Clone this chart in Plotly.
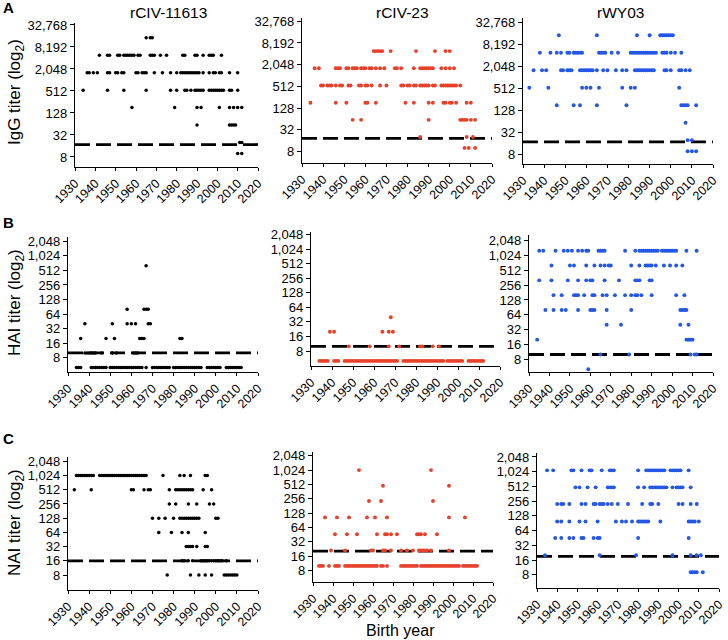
import math
import plotly.graph_objects as go

# ---------------- data ----------------
year_ticks = [1930, 1940, 1950, 1960, 1970, 1980, 1990, 2000, 2010, 2020]
igg_ticks = [8, 32, 128, 512, 2048, 8192, 32768]
hai_ticks = [8, 16, 32, 64, 128, 256, 512, 1024, 2048]
nai_ticks = [8, 16, 32, 64, 128, 256, 512, 1024, 2048]

strains = ["rCIV-11613", "rCIV-23", "rWY03"]

# (titer, [birth years])
igg_11613 = [
    (14580, [1965, 1967, 1968]),
    (4860, [1942, 1946, 1947, 1951, 1952, 1954, 1955, 1956, 1957, 1958, 1959, 1961, 1962, 1967, 1968, 1969, 1972,
            1975, 1983, 1984, 1989, 1990, 1993, 1996, 1997, 1998, 2002]),
    (1620, [1936, 1937, 1939, 1941, 1946, 1947, 1950, 1951, 1953, 1954, 1960, 1961, 1963, 1964, 1965, 1969, 1973,
            1977, 1980, 1982, 1983, 1984, 1985, 1986, 1987, 1988, 1989, 1990, 1991, 1993, 1996, 1998, 1999, 2001,
            2002, 2006, 2010]),
    (540, [1934, 1946, 1954, 1965, 1977, 1980, 1984, 1985, 1987, 1989, 1990, 1991, 1992, 1993, 1996, 1997, 1998,
           1999, 2000, 2001, 2002, 2003, 2006, 2007, 2010]),
    (180, [1958, 1979, 1990, 1992, 2001, 2006, 2008, 2010, 2012]),
    (60, [1990, 2006, 2007, 2008, 2009]),
    (20, [2011, 2012]),
    (10, [2010, 2012]),
]
igg_23 = [
    (4860, [1964, 1965, 1966, 1967, 1968, 1972, 1984, 1993, 1998, 2000]),
    (1620, [1936, 1938, 1946, 1947, 1948, 1951, 1952, 1954, 1955, 1956, 1958, 1959, 1960, 1962, 1963, 1965, 1967,
            1969, 1974, 1975, 1977, 1983, 1986, 1987, 1988, 1989, 1990, 1991, 1992, 1996, 1998, 2000, 2002]),
    (540, [1939, 1940, 1942, 1943, 1944, 1946, 1948, 1949, 1952, 1953, 1957, 1958, 1960, 1961, 1963, 1967, 1970,
           1977, 1978, 1980, 1981, 1983, 1984, 1986, 1987, 1988, 1989, 1990, 1992, 1993, 1996, 1997, 1998, 1999,
           2000, 2001, 2002, 2003, 2005]),
    (180, [1934, 1946, 1951, 1960, 1961, 1965, 1979, 1983, 1990, 1992, 1997, 1998, 2000, 2001, 2003, 2008, 2010]),
    (60, [1954, 1958, 1990, 2005, 2006, 2007, 2008, 2010, 2012]),
    (20, [1986, 2008, 2011]),
    (10, [2007, 2009, 2012]),
]
igg_wy03 = [
    (14580, [1947, 1965, 1984, 1990, 1995, 1996, 1997, 1998, 1999, 2000, 2001]),
    (4860, [1938, 1943, 1946, 1948, 1951, 1952, 1954, 1955, 1956, 1957, 1958, 1966, 1967, 1968, 1969, 1972, 1975,
            1981, 1982, 1983, 1984, 1985, 1986, 1987, 1988, 1989, 1990, 1991, 1992, 1993, 1996, 1997, 1998, 2000,
            2002, 2005]),
    (1620, [1935, 1939, 1941, 1948, 1949, 1951, 1952, 1953, 1957, 1958, 1959, 1960, 1961, 1962, 1963, 1965, 1968,
            1970, 1974, 1977, 1979, 1983, 1984, 1985, 1986, 1987, 1988, 1989, 1990, 1991, 1992, 1997, 1998, 2000,
            2004, 2005, 2007, 2009]),
    (540, [1933, 1942, 1958, 1960, 1962, 1966, 1977, 1981, 1983, 2004]),
    (180, [1946, 1954, 1957, 1965, 1979, 2005, 2006, 2007, 2008, 2012]),
    (60, [2007]),
    (20, [2008, 2010]),
    (10, [2008, 2010, 2012]),
]

hai_11613 = [
    (640, [1967]),
    (80, [1958, 1966, 1967, 1968]),
    (40, [1938, 1951, 1958, 1960, 1962, 1968, 1969]),
    (20, [1936, 1948, 1952, 1964, 1965, 1966, 1983, 1984]),
    (10, [1938, 1939, 1940, 1941, 1942, 1943, 1946, 1951, 1953, 1961, 1962, 1963]),
    (5, [1934, 1935, 1936, 1941, 1942, 1943, 1944, 1945, 1946, 1947, 1948, 1950, 1951, 1952, 1953, 1954, 1955,
         1956, 1957, 1958, 1959, 1960, 1961, 1962, 1963, 1964, 1965, 1967, 1970, 1971, 1972, 1973, 1974, 1975,
         1976, 1977, 1978, 1980, 1981, 1982, 1983, 1984, 1985, 1986, 1987, 1988, 1989, 1990, 1991, 1992, 1993,
         1996, 1997, 1998, 1999, 2000, 2001, 2002, 2005, 2006, 2007, 2008, 2009, 2010, 2011, 2012]),
]
hai_23 = [
    (40, [1968]),
    (20, [1939, 1941, 1964, 1967, 1969]),
    (10, [1948, 1958, 1967, 1972, 1982, 1983, 1988, 1991]),
    (5, [1934, 1935, 1936, 1937, 1938, 1941, 1942, 1943, 1946, 1947, 1948, 1949, 1950, 1951, 1952, 1953, 1954,
         1955, 1956, 1957, 1958, 1959, 1960, 1961, 1962, 1963, 1964, 1965, 1966, 1967, 1968, 1969, 1970, 1971,
         1974, 1975, 1976, 1977, 1978, 1979, 1980, 1981, 1982, 1983, 1984, 1985, 1986, 1987, 1988, 1989, 1990,
         1991, 1992, 1993, 1995, 1996, 1997, 1998, 1999, 2000, 2001, 2002, 2005, 2006, 2007, 2008, 2009, 2010,
         2011, 2012]),
]
hai_wy03 = [
    (1280, [1935, 1937, 1943, 1947, 1949, 1951, 1954, 1956, 1958, 1959, 1964, 1965, 1966, 1967, 1977, 1982, 1984,
            1985, 1986, 1987, 1988, 1989, 1990, 1991, 1992, 1993, 1995, 1996, 1997, 1998, 1999, 2000, 2001, 2002,
            2007, 2012]),
    (640, [1941, 1950, 1952, 1958, 1962, 1965, 1967, 1969, 1970, 1980, 1984, 1987, 1988, 1989, 1990, 1992, 1996,
           1999, 2002, 2005]),
    (320, [1935, 1941, 1949, 1954, 1958, 1960, 1961, 1967, 1974, 1982, 1983, 1984, 1989, 1990]),
    (160, [1942, 1946, 1952, 1953, 1954, 1957, 1961, 1962, 1966, 1968, 1972, 1977, 1980, 1982, 1983, 1985, 1990,
           2002, 2006]),
    (80, [1938, 1942, 1946, 1948, 1954, 1960, 1961, 1962, 1968, 1980, 2004, 2005, 2006, 2007]),
    (40, [1968, 1975, 2004, 2008]),
    (20, [1934, 2007, 2008, 2009, 2010]),
    (10, [1965, 1979, 2009, 2011, 2012]),
    (5, [1959]),
]

nai_11613 = [
    (1024, [1934, 1935, 1936, 1937, 1938, 1939, 1940, 1941, 1942, 1945, 1946, 1947, 1948, 1949, 1950, 1951, 1952,
            1953, 1954, 1955, 1956, 1957, 1958, 1959, 1960, 1961, 1962, 1963, 1964, 1965, 1966, 1967, 1975, 1983,
            1985, 1988, 1995, 1996]),
    (512, [1933, 1941, 1960, 1961, 1966, 1968, 1969, 1978, 1981, 1982, 1983, 1984, 1985, 1986, 1987, 1988, 1989,
           1994, 1998]),
    (256, [1978, 1981, 1987, 1991, 1997, 1999]),
    (128, [1970, 1973, 1976, 1980, 1983, 1984, 1985, 1986, 1987, 1988, 1989, 1990, 1991, 1992, 2000, 2001]),
    (64, [1973, 1979, 1984, 1987, 1995]),
    (32, [1986, 1987, 1988, 1989, 1991, 1995, 1996]),
    (16, [1984, 1985, 1987, 1989, 1993, 1994, 1995, 1996, 1997, 1998, 1999, 2000, 2001, 2002, 2003, 2005]),
    (8, [1977, 1988, 1992, 1995, 1998, 2004, 2005, 2006, 2007, 2008, 2009, 2010]),
]
nai_23 = [
    (1024, [1953, 1989]),
    (480, [1965, 1998]),
    (230, [1958, 1964, 1990]),
    (104, [1936, 1942, 1948, 1957, 1961, 1967, 1998, 2006]),
    (46, [1941, 1947, 1952, 1962, 1966, 1967, 1969, 1972, 1982, 1983, 1984, 1986, 1992]),
    (21, [1939, 1946, 1959, 1960, 1965, 1966, 1969, 1974, 1977, 1980, 1983, 1984, 1985, 1986, 1987, 1989, 1998]),
    (10, [1933, 1934, 1935, 1938, 1941, 1942, 1943, 1946, 1947, 1948, 1949, 1950, 1951, 1952, 1953, 1954, 1955,
          1956, 1957, 1958, 1959, 1960, 1961, 1962, 1964, 1965, 1967, 1974, 1975, 1976, 1977, 1978, 1979, 1980,
          1981, 1982, 1984, 1985, 1986, 1987, 1988, 1989, 1990, 1991, 1992, 1993, 1994, 1995, 1996, 1997, 1998,
          1999, 2000, 2001, 2002, 2003, 2005, 2006, 2007, 2008, 2009, 2010, 2011, 2012]),
]
nai_wy03 = [
    (1090, [1935, 1938, 1947, 1948, 1952, 1956, 1957, 1962, 1966, 1967, 1968, 1980, 1984, 1985, 1986, 1987, 1988,
            1989, 1990, 1991, 1992, 1993, 1996, 1997, 1998, 1999, 2000, 2001, 2005]),
    (490, [1949, 1951, 1955, 1959, 1965, 1966, 1967, 1968, 1980, 1983, 1986, 1987, 1988, 1989, 1990, 1991, 1992,
           1993, 1994, 1997, 1999, 2000, 2001, 2002, 2006]),
    (223, [1940, 1942, 1943, 1946, 1952, 1954, 1958, 1959, 1961, 1962, 1963, 1965, 1967, 1970, 1975, 1982, 1986,
           1987, 1990, 2000, 2002, 2006, 2009]),
    (98, [1940, 1942, 1946, 1951, 1954, 1960, 1969, 1972, 1974, 1977, 1980, 1981, 1982, 1983, 1984, 1985, 1991,
          2005, 2006, 2007, 2008, 2010]),
    (45, [1939, 1942, 1946, 1948, 1952, 1953, 1958, 1960, 1961, 1980, 2005]),
    (20, [1934, 1961, 1979, 1997, 2006, 2009, 2011]),
    (9, [2006, 2007, 2008, 2009, 2012]),
]

cutoff_igg = [17.5, 18.5, 18]
cutoff_hai = [10, 10, 10]
cutoff_nai = [16, 20.5, 19]

# ---------------- layout / style ----------------
W, H = 728, 640
FONT = "Arial, Liberation Sans, sans-serif"
colors = ["#000000", "#e8412b", "#2457e6"]
msize = [3.5, 3.9, 3.9]

# panel: data, cutoff, ticks, (left, right, top, bottom) px, (ylo, yhi) log2
panels = [
    (igg_11613, cutoff_igg[0], igg_ticks, (75, 258, 23, 167), (2.09, 15.18)),
    (igg_23, cutoff_igg[1], igg_ticks, (302, 492, 18, 163), (1.93, 15.3)),
    (igg_wy03, cutoff_igg[2], igg_ticks, (523, 713, 18, 164), (2.16, 15.4)),
    (hai_11613, cutoff_hai[0], hai_ticks, (68, 258, 237, 372), (2.01, 11.3)),
    (hai_23, cutoff_hai[1], hai_ticks, (311, 500, 232, 366), (1.97, 11.18)),
    (hai_wy03, cutoff_hai[2], hai_ticks, (529, 713, 235, 372), (2.14, 11.38)),
    (nai_11613, cutoff_nai[0], nai_ticks, (68, 258, 457, 590), (1.95, 11.3)),
    (nai_23, cutoff_nai[1], nai_ticks, (313, 493, 452, 582), (2.2, 11.26)),
    (nai_wy03, cutoff_nai[2], nai_ticks, (537, 719, 453, 588), (2.1, 11.27)),
]

fig = go.Figure()
layout = dict(
    width=W, height=H, autosize=False, margin=dict(l=0, r=0, t=0, b=0, pad=0, autoexpand=False),
    paper_bgcolor="white", plot_bgcolor="white", showlegend=False,
    font=dict(family=FONT, color="black"),
)

for i, (rows, cut, ticks, box, yr) in enumerate(panels):
    n = i + 1
    xa = "x" if n == 1 else f"x{n}"
    ya = "y" if n == 1 else f"y{n}"
    col = i % 3
    l, r, t, b = box
    xs, ys = [], []
    for titer, yrs in rows:
        xs += yrs
        ys += [titer] * len(yrs)
    fig.add_trace(go.Scatter(
        x=[year_ticks[0], year_ticks[-1]], y=[cut, cut], mode="lines",
        line=dict(color="black", width=2.8, dash="15px,6px"),
        xaxis=xa, yaxis=ya, hoverinfo="skip"))
    fig.add_trace(go.Scatter(
        x=xs, y=ys, mode="markers", cliponaxis=False,
        marker=dict(size=msize[col], color=colors[col], line=dict(width=0)),
        xaxis=xa, yaxis=ya))
    layout["xaxis" if n == 1 else f"xaxis{n}"] = dict(
        domain=[l / W, r / W], anchor=ya, range=[year_ticks[0], year_ticks[-1]], automargin=False,
        tickmode="array", tickvals=year_ticks, ticktext=[str(v) for v in year_ticks],
        tickangle=-45, ticks="outside", ticklen=3, tickwidth=1, tickcolor="black",
        showline=True, linecolor="black", linewidth=1.2, showgrid=False, zeroline=False,
        tickfont=dict(size=12.5, family=FONT, color="black"), fixedrange=True)
    layout["yaxis" if n == 1 else f"yaxis{n}"] = dict(
        domain=[1 - b / H, 1 - t / H], anchor=xa, type="log", automargin=False,
        range=[yr[0] * math.log10(2), yr[1] * math.log10(2)],
        tickmode="array", tickvals=ticks, ticktext=[f"{v:,}" for v in ticks],
        ticks="outside", ticklen=4, tickwidth=1, tickcolor="black",
        showline=True, linecolor="black", linewidth=1.2, showgrid=False, zeroline=False,
        tickfont=dict(size=13, family=FONT, color="black"), fixedrange=True)

annotations = []
# strain titles
for name, cx in zip(strains, [168, 402, 620]):
    annotations.append(dict(text=name, x=cx / W, y=1 - 12 / H, xref="paper", yref="paper",
                            showarrow=False, font=dict(size=15.5, family=FONT), xanchor="center", yanchor="middle"))
# panel letters
for letter, py in zip(["A", "B", "C"], [7, 223, 438]):
    annotations.append(dict(text=f"<b>{letter}</b>", x=8 / W, y=1 - py / H, xref="paper", yref="paper",
                            showarrow=False, font=dict(size=15, family=FONT), xanchor="center", yanchor="middle"))
# y titles
for txt, py in zip(["IgG titer (log<sub>2</sub>)", "HAI titer (log<sub>2</sub>)", "NAI titer (log<sub>2</sub>)"],
                   [92, 303, 523]):
    annotations.append(dict(text=txt, x=16 / W, y=1 - py / H, xref="paper", yref="paper", textangle=-90,
                            showarrow=False, font=dict(size=17, family=FONT), xanchor="center", yanchor="middle"))
annotations.append(dict(text="Birth year", x=400 / W, y=1 - 630 / H, xref="paper", yref="paper",
                        showarrow=False, font=dict(size=16, family=FONT), xanchor="center", yanchor="middle"))
layout["annotations"] = annotations
fig.update_layout(**layout)
fig.write_html("out.html", config={"displayModeBar": False, "staticPlot": True},
               post_script="document.body.style.margin='0';document.body.style.overflow='hidden';")
